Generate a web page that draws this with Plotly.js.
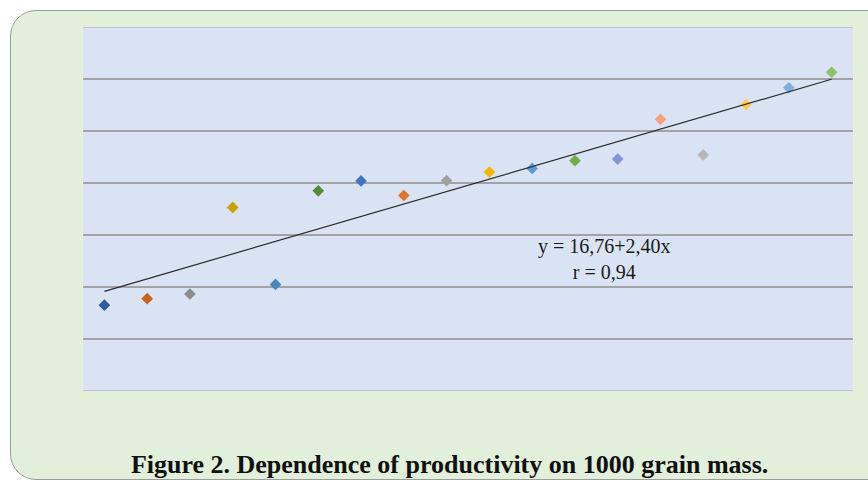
<!DOCTYPE html>
<html>
<head>
<meta charset="utf-8">
<script src="https://cdn.plot.ly/plotly-3.0.1.min.js"></script>
<style>
  html, body { margin: 0; padding: 0; background: #ffffff; overflow: hidden; }
  #frame {
    position: absolute; left: 10px; top: 10px; width: 890px; height: 468px;
    background: #E2EFDA; border: 1.5px solid #9c9c9c; border-radius: 26px;
  }
  #chart { position: absolute; left: 0; top: 0; width: 868px; height: 480px; }
</style>
</head>
<body>
<div id="frame"></div>
<div id="chart"></div>
<script>
// Sample index (points are equally spaced)
const xValues = [1, 2, 3, 4, 5, 6, 7, 8, 9, 10, 11, 12, 13, 14, 15, 16, 17, 18];
// Productivity values
const yValues = [16.5, 17.75, 18.65, 35.3, 20.5, 38.5, 40.4, 37.6, 40.45, 42.1, 42.8, 44.3, 44.6, 52.25, 45.4, 55.1, 58.3, 61.3];
const pointColors = ["#2F5C9E", "#C8641E", "#8C8C8C", "#CC9F00", "#4A86B8", "#548B3A",
                     "#4472C4", "#E2742E", "#A0A0A0", "#F2B800", "#5B9BD5", "#70AD47",
                     "#7F96D8", "#F4A07A", "#B7B7B7", "#FFCA55", "#7DAFE0", "#8CC168"];
// Trend line parameters (from the equation shown)
const intercept = 16.76;
const slope = 2.40;
const eqLines = ["y = 16,76+2,40x", "r = 0,94"];
const titleText = "Figure 2. Dependence of productivity on 1000 grain mass.";

const serif = "Liberation Serif";

const traces = xValues.map((x, i) => ({
  type: "scatter", mode: "markers", x: [x], y: [yValues[i]],
  marker: { symbol: "diamond", size: 9, color: pointColors[i] },
  showlegend: false, hoverinfo: "x+y"
}));
const xFirst = xValues[0], xLast = xValues[xValues.length - 1];
traces.push({
  type: "scatter", mode: "lines",
  x: [xFirst, xLast], y: [intercept + slope * xFirst, intercept + slope * xLast],
  line: { color: "#2b2b2b", width: 1.2 }, showlegend: false, hoverinfo: "skip"
});

const layout = {
  width: 868, height: 480,
  margin: { l: 83, r: 15, t: 27, b: 89 },
  paper_bgcolor: "rgba(0,0,0,0)",
  plot_bgcolor: "#DAE3F3",
  xaxis: { range: [0.5, 18.5], showgrid: false, zeroline: false, showticklabels: false, ticks: "", showline: false },
  yaxis: { range: [0, 70], dtick: 10, showgrid: true, gridcolor: "#A3A3A3", gridwidth: 1.2,
           zeroline: false, showticklabels: false, ticks: "", showline: false },
  shapes: [
    { type: "line", xref: "paper", yref: "y", x0: 0, x1: 1, y0: 0, y1: 0, line: { color: "#A3A3A3", width: 1.2 } },
    { type: "line", xref: "paper", yref: "y", x0: 0, x1: 1, y0: 70, y1: 70, line: { color: "#A3A3A3", width: 1.2 } }
  ],
  annotations: [
    { xref: "x", yref: "y", x: 12.69, y: 25.4, text: eqLines.join("<br>"), showarrow: false,
      align: "center", font: { family: serif, size: 20, color: "#1a1a1a" } }
  ],
  title: {
    text: "<b>" + titleText + "</b>",
    x: 0.518, xanchor: "center", yref: "container", y: 0.014, yanchor: "bottom",
    font: { family: serif, size: 26, color: "#111111" }
  }
};
Plotly.newPlot("chart", traces, layout, { displayModeBar: false, staticPlot: true });
</script>
</body>
</html>
